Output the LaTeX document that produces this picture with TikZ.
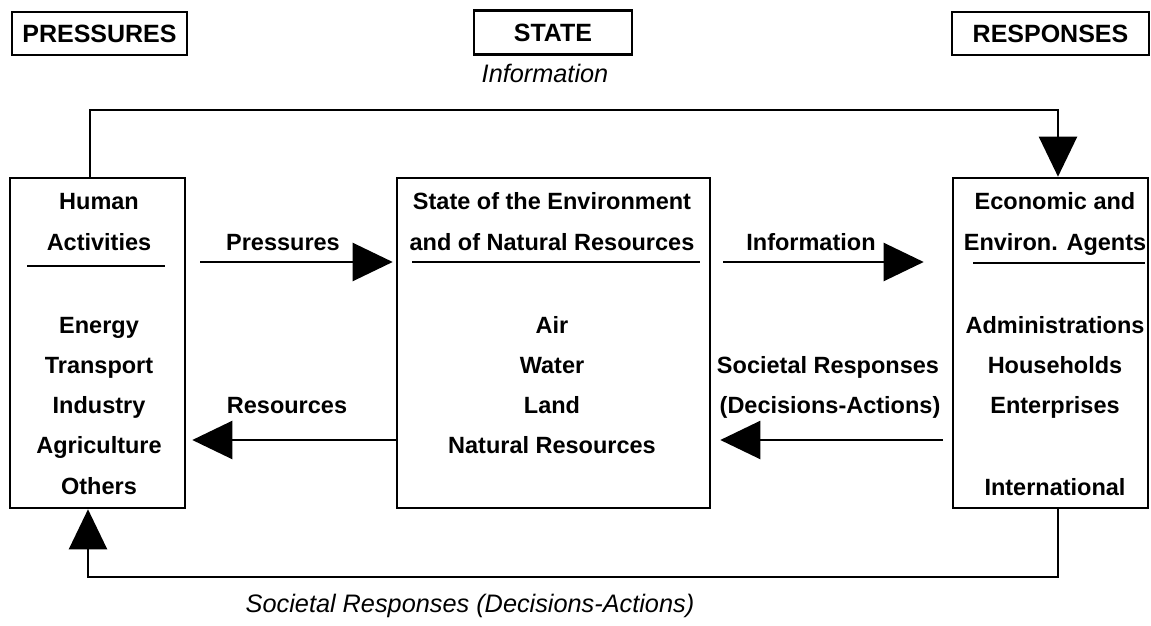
\documentclass[tikz,border=0pt]{standalone}
\usepackage{fontspec}
\setmainfont{Liberation Sans}
\usetikzlibrary{arrows.meta}
\begin{document}
\begin{tikzpicture}[x=1pt,y=-1pt,
  box/.style={draw, line width=2.6pt, inner sep=0pt},
  hbox/.style={draw, line width=2.4pt, inner sep=0pt, font=\fontsize{25}{30}\selectfont\bfseries},
  body/.style={font=\fontsize{23.5}{28}\selectfont\bfseries, anchor=base, inner sep=0pt},
  ital/.style={font=\fontsize{25.3}{30}\selectfont\itshape, anchor=base, inner sep=0pt},
  conn/.style={line width=2.2pt},
  arr/.style={conn, -{Triangle[length=40pt,width=38pt]}},
  rule/.style={line width=2.2pt}]
\useasboundingbox (0,0) rectangle (1151,626);

% header boxes
\node[hbox, minimum width=175pt, minimum height=43pt] (hp) at (99.5,33.5) {PRESSURES};
\node[hbox, minimum width=158pt, minimum height=44pt] (hs) at (553,32.5) {STATE};
\node[hbox, minimum width=197pt, minimum height=43pt] (hr) at (1050.5,33.5) {RESPONSES};
\node[ital] (tinfo) at (545,82) {Information};

% main boxes
\node[box, minimum width=175pt, minimum height=330pt] (hum) at (97.5,343) {};
\node[box, minimum width=313pt, minimum height=330pt] (env) at (553.5,343) {};
\node[box, minimum width=195pt, minimum height=330pt] (agt) at (1050.5,343) {};

% left box text
\node[body] (h1) at (99,209) {Human};
\node[body] (h2) at (99,250) {Activities};
\draw[rule] (27,266) -- (165,266);
\node[body] (h3) at (99,333) {Energy};
\node[body] (h4) at (99,373) {Transport};
\node[body] (h5) at (99,413) {Industry};
\node[body] (h6) at (99,453) {Agriculture};
\node[body] (h7) at (99,494) {Others};

% middle box text
\node[body] (e1) at (552,209) {State of the Environment};
\node[body] (e2) at (552,250) {and of Natural Resources};
\draw[rule] (412,262) -- (700,262);
\node[body] (e3) at (552,333) {Air};
\node[body] (e4) at (552,373) {Water};
\node[body] (e5) at (552,413) {Land};
\node[body] (e6) at (552,453) {Natural Resources};

% right box text
\node[body] (a1) at (1055,209) {Economic and};
\node[body] (a2) at (1055,250) {Environ. Agents};
\draw[rule] (973,263) -- (1145,263);
\node[body] (a3) at (1055,333) {Administrations};
\node[body] (a4) at (1055,373) {Households};
\node[body] (a5) at (1055,413) {Enterprises};
\node[body] (a6) at (1055,495) {International};

% middle arrows
\coordinate (pa) at (200,262);
\draw[arr, shorten >=3pt] (pa) -- (pa -| env.west);
\node[body] (lp) at (283,250) {Pressures};

\coordinate (ia) at (723,262);
\draw[arr, shorten >=28pt] (ia) -- (ia -| agt.west);
\node[body] (li) at (811,250) {Information};

\coordinate (ra) at (397,440);
\draw[arr, shorten >=6pt] (env.west |- ra) -- (ra -| hum.east);
\node[body] (lr) at (287,413) {Resources};

\coordinate (sa) at (943,440);
\draw[arr, shorten >=9pt] (sa) -- (sa -| env.east);
\node[body] (ls1) at (828,373) {Societal Responses};
\node[body] (ls2) at (830,413) {(Decisions-Actions)};

% feedback loops
\coordinate (tl) at (90,110);
\coordinate (tr) at (1058,110);
\draw[arr] (hum.north -| tl) -- (tl) -- (tr) -- (agt.north -| tr);

\coordinate (br) at (1058,577);
\coordinate (bl) at (88,577);
\draw[arr] (agt.south -| br) -- (br) -- (bl) -- (hum.south -| bl);
\node[ital] (lsb) at (470,612) {Societal Responses (Decisions-Actions)};
\end{tikzpicture}
\end{document}
